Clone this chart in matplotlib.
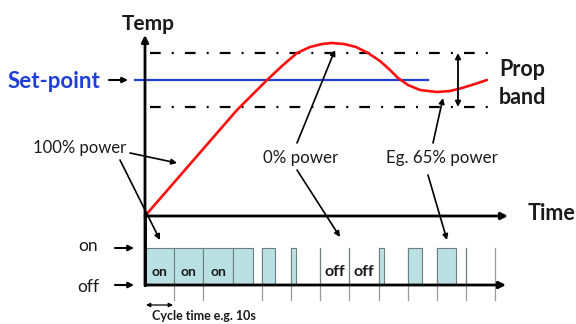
import numpy as np
import matplotlib.pyplot as plt

# red temperature curve (pixel coords, y down)
curve_x = [145, 237, 252, 267, 282, 297, 310, 322, 332, 344, 356, 368, 380,
           390, 398, 408, 420, 437, 450, 462, 475, 487]
curve_y = [216, 110, 95, 80, 66, 53, 47, 44, 43, 44, 47, 53, 61,
           70, 78, 85, 90, 92, 91, 88, 84, 80]

# heater output: fraction of each cycle the heater is on
duty = [1.0, 1.0, 1.0, 0.70, 0.45, 0.17, 0.0, 0.0, 0.17, 0.50, 0.65, 0.0]
block_labels = ["on", "on", "on", "", "", "", "off", "off", "", "", "", ""]

# layout (pixels)
x0 = 145
cycle = 29.2
y_time = 216
y_on, y_off = 248, 285
y_set, y_hi, y_lo = 80, 53, 107

fig = plt.figure(figsize=(5.76, 3.24), dpi=100)
ax = fig.add_axes([0, 0, 1, 1])
ax.set_xlim(0, 576)
ax.set_ylim(324, 0)
ax.axis("off")

font = ["Lato", "DejaVu Sans"]
blue = "#1f3fd6"
ink = "#1a1a1a"


def arrow(x1, y1, x2, y2, lw=1.2, style="-|>", ms=8, color="black"):
    ax.annotate("", xy=(x2, y2), xytext=(x1, y1),
                arrowprops=dict(arrowstyle=style, lw=lw, color=color,
                                mutation_scale=ms, shrinkA=0, shrinkB=0))


# band lines and set-point
band = (0, (4.8, 5.0, 0.9, 5.0))
ax.plot([150, 490], [y_hi, y_hi], color="black", lw=1.6, ls=band)
ax.plot([150, 490], [y_lo, y_lo], color="black", lw=1.6, ls=band)
ax.plot([135, 428], [y_set, y_set], color=blue, lw=1.6)
arrow(458, y_lo, 458, y_hi, lw=1.3, style="<|-|>", ms=8)

# temperature curve
ax.plot(curve_x, curve_y, color="#ff1010", lw=1.9, solid_capstyle="round",
        solid_joinstyle="round")

# axes
arrow(x0, y_off, x0, 35, lw=2.0, ms=10)
arrow(x0, y_time, 508, y_time, lw=2.0, ms=10)

# heater pulses
edges = x0 + cycle * np.arange(len(duty) + 1)
for i, e in enumerate(edges[1:]):
    top = y_on if i != 2 else y_off - 1
    ax.plot([e, e], [y_on, 300] if i != 2 else [y_on, y_off], color="#9a9a9a",
            lw=0.9, zorder=1)
ax.bar(edges[:-1], [y_on - y_off] * len(duty), width=np.array(duty) * cycle,
       bottom=y_off, align="edge", color="#b9e1e4", edgecolor="#6f7f80",
       lw=0.8, zorder=2)
arrow(x0, y_off, 506, y_off, lw=2.0, ms=10)
ax.plot([x0, x0], [y_time, y_off], color="black", lw=2.0, zorder=3)
for e, lab in zip(edges[:-1], block_labels):
    if lab:
        ax.text(e + cycle / 2, 272, lab, ha="center", va="center",
                fontsize=10 if lab == "on" else 11.5, fontweight="bold",
                family=font, color=ink, zorder=4)

# labels
ax.text(148, 24, "Temp", ha="center", va="center", fontsize=15,
        fontweight="bold", family=font, color=ink)
ax.text(8, 82, "Set-point", ha="left", va="center", fontsize=16,
        fontweight="bold", family=font, color=blue)
arrow(109, y_set, 128, y_set, lw=1.5, ms=8)
ax.text(499, 69, "Prop", ha="left", va="center", fontsize=15.5,
        fontweight="bold", family=font, color=ink)
ax.text(499, 97, "band", ha="left", va="center", fontsize=15.5,
        fontweight="bold", family=font, color=ink)
ax.text(528, 214, "Time", ha="left", va="center", fontsize=15.5,
        fontweight="bold", family=font, color=ink)

ax.text(80, 148, "100% power", ha="center", va="center", fontsize=12,
        family=font, color=ink)
ax.text(301, 158, "0% power", ha="center", va="center", fontsize=12.2,
        family=font, color=ink)
ax.text(442, 158, "Eg. 65% power", ha="center", va="center", fontsize=12.2,
        family=font, color=ink)

arrow(130, 153, 177, 163)
arrow(120, 160, 160, 240)
arrow(297, 143, 335, 50)
arrow(297, 170, 340, 237)
arrow(433, 143, 443, 98)
arrow(428, 175, 447, 240)

ax.text(88, 246, "on", ha="center", va="center", fontsize=12.5, family=font,
        color=ink)
ax.text(88, 287, "off", ha="center", va="center", fontsize=12.5, family=font,
        color=ink)
arrow(115, y_on, 134, y_on, lw=1.5, ms=8)
arrow(115, y_off, 134, y_off, lw=1.5, ms=8)

arrow(146, 305, 173, 305, lw=0.9, style="<|-|>", ms=6)
ax.text(152, 316, "Cycle time e.g. 10s", ha="left", va="center",
        fontsize=9, fontweight="bold", family=font, color=ink)

fig.savefig("out.png", dpi=100)
